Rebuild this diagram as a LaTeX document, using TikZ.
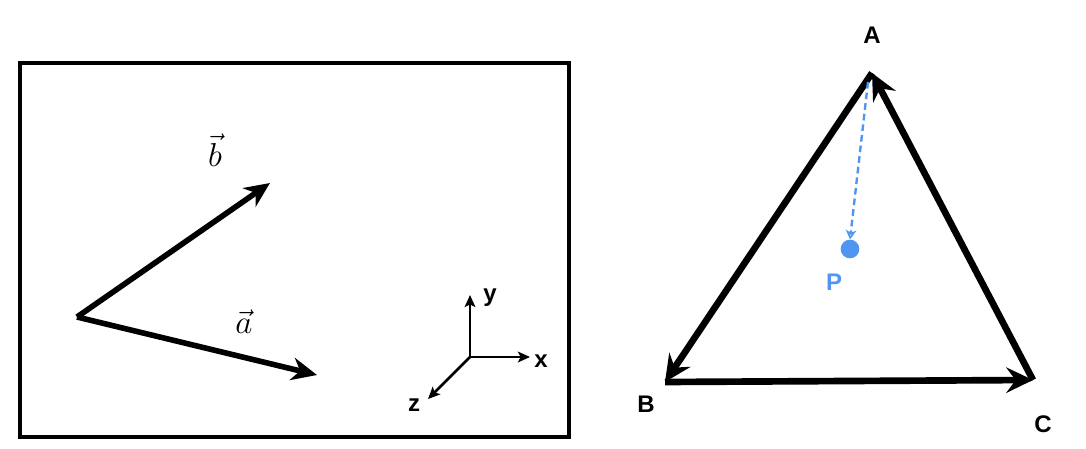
\documentclass[tikz,border=0pt]{standalone}
\usepackage{fontspec}
\setsansfont{Liberation Sans}
\usetikzlibrary{arrows.meta}
\definecolor{pblue}{RGB}{80,150,240}
\tikzset{
  vec/.style={line width=4.2pt,-{Stealth[length=19pt,width=17pt,inset=6pt]}},
  tri/.style={line width=5pt,-{Stealth[length=20pt,width=19pt,inset=7pt]}},
  axis/.style={line width=2.1pt,-{Stealth[length=9pt,width=8pt,inset=2pt]}},
  lbl/.style={font=\sffamily\bfseries\fontsize{18}{18}\selectfont},
  vlbl/.style={font=\fontsize{28}{28}\selectfont},
}
\begin{document}
\begin{tikzpicture}[x=0.75pt,y=-0.75pt]
\useasboundingbox (0,0) rectangle (1086,449);
\draw[line width=2.4pt] (20,63) rectangle (569,437);
\coordinate (O) at (77,317);
\coordinate (Bt) at (270,183);
\coordinate (At) at (317,375);
\draw[vec] (O) -- (Bt);
\draw[vec] (O) -- (At);
\node[vlbl] (lb) at (215,150) {$\vec{b}$};
\node[vlbl] (la) at (244,322) {$\vec{a}$};
% axes
\coordinate (Ax) at (470,357);
\coordinate (Ay) at (470,295);
\coordinate (Axx) at (530,357);
\coordinate (Az) at (428,399);
\draw[axis] (Ax) -- (Ay);
\draw[axis] (Ax) -- (Axx);
\draw[axis] (Ax) -- (Az);
\node[lbl] (ly) at (490,298) {y};
\node[lbl] (lx) at (541,361) {x};
\node[lbl] (lz) at (414,405) {z};
% triangle
\coordinate (A) at (872,73);
\coordinate (B) at (665,382);
\coordinate (C) at (1033,380);
\draw[tri] (A) -- (B);
\draw[tri] (B) -- (C);
\draw[tri] (C) -- (A);
\node[lbl] (lA) at (872,35) {A};
\node[lbl] (lB) at (646,404) {B};
\node[lbl] (lC) at (1043,424) {C};
% P
\node[circle,fill=pblue,inner sep=0pt,minimum size=14pt] (P) at (850,249) {};
\draw[pblue,line width=1.8pt,dashed,dash pattern=on 5pt off 3pt,-{Stealth[length=7pt,width=8pt,inset=2pt,open]}] (868,82) -- (P.north);
\node[lbl,text=pblue] (lP) at (834,282) {P};
\end{tikzpicture}
\end{document}
